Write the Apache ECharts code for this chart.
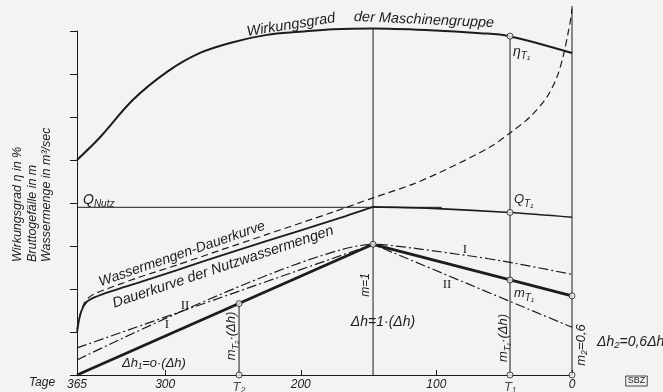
<!DOCTYPE html>
<html>
<head>
<meta charset="utf-8">
<script src="https://cdn.jsdelivr.net/npm/echarts@6/dist/echarts.min.js"></script>
<style>
html,body{margin:0;padding:0;background:#f3f3f1;}
#c{width:663px;height:392px;}
</style>
</head>
<body>
<div id="c"></div>
<script>
// ---------- data (days on x, scale units on y) ----------
const xTickValues = [0, 100, 200, 300, 365];
const etaDays = [365, 348, 323.7, 298.6, 274.3, 250, 224.9, 200.6, 176.2, 147.5, 104.7, 67.8, 46.5, 0];
const etaVals = [5.00, 5.53, 6.40, 7.05, 7.49, 7.74, 7.91, 7.98, 8.04, 8.06, 8.02, 7.95, 7.88, 7.49];

const wmDays = [365, 363.3, 360.3, 356.7, 350.5, 340.6, 318.5, 291.2, 259.5, 224.9, 176.2, 146.7, 117.2, 92.2, 60.5, 45.7, 31.0, 18.4, 11.1, 6.6, 2.9, 0.7, 0];
const wmVals = [1.07, 1.33, 1.63, 1.79, 1.91, 2.03, 2.28, 2.56, 2.90, 3.27, 3.79, 4.12, 4.44, 4.79, 5.30, 5.63, 6.00, 6.47, 6.93, 7.40, 7.95, 8.33, 8.52];

const nwDays = [365, 363.5, 361.5, 357.8, 351.7, 340.6, 318.5, 291.2, 259.5, 224.9, 176.2, 146.7];
const nwVals = [0.98, 1.28, 1.51, 1.70, 1.81, 1.94, 2.16, 2.44, 2.77, 3.12, 3.60, 3.91];

const qDays = [146.7, 106.9, 45.7, 0];
const qVals = [3.91, 3.88, 3.78, 3.67];

const qNutzDays = [365, 96];
const qNutzVals = [3.90, 3.90];

const thickDays = [365, 146.7, 0];
const thickVals = [0, 3.04, 1.84];
const iDays = [365, 146.7, 77.6, 45.7, 0];
const iVals = [0.35, 3.04, 2.78, 2.62, 2.34];
const iiDays = [365, 146.7, 0];
const iiVals = [0.63, 3.04, 1.11];

const T2 = 245.5, M1 = 146.7, T1 = 45.7;
const vertDays = [T2, M1, T1, 0];
const vertTops = [1.66, 8.06, 7.88, 8.58];

const circleDays = [T2, M1, T1, T1, T1, 0];
const circleVals = [1.66, 3.04, 2.21, 3.78, 7.88, 1.84];
const axisMarkDays = [T2, T1, 0];
const axisMarkLabels = ['T₂', 'T₁', ''];

// ---------- styling ----------
const INK = '#1c1c1c';
const BG = '#f3f3f1';
const FF = '"Liberation Sans", "DejaVu Sans", sans-serif';
const SERIF = '"Liberation Serif", "DejaVu Serif", serif';
const DASHDOT = [10, 3, 2, 3];

const zip = (a, b) => a.map((v, i) => [v, b[i]]);

function lineSeries(d, v, width, type, smooth) {
  return {
    type: 'line', data: zip(d, v), symbol: 'none', smooth: smooth || false,
    clip: false, silent: true,
    lineStyle: { color: INK, width: width, type: type || 'solid' }, z: 3
  };
}

const series = [
  lineSeries(etaDays, etaVals, 2, 'solid', 0.35),
  lineSeries(wmDays, wmVals, 1.2, [7, 4], 0.3),
  lineSeries(nwDays, nwVals, 1.8, 'solid', 0.3),
  lineSeries(qDays, qVals, 1.6, 'solid', 0.3),
  lineSeries(qNutzDays, qNutzVals, 1, 'solid'),
  lineSeries(thickDays, thickVals, 2.8, 'solid'),
  lineSeries(iDays, iVals, 1.2, DASHDOT, 0.2),
  lineSeries(iiDays, iiVals, 1.2, DASHDOT)
];
vertDays.forEach((d, i) => series.push(lineSeries([d, d], [0, vertTops[i]], 1, 'solid')));
series.push({
  type: 'scatter', data: zip(circleDays, circleVals), symbol: 'circle', symbolSize: 6,
  clip: false, silent: true, z: 10,
  itemStyle: { color: BG, borderColor: INK, borderWidth: 1 }
});
series.push({
  type: 'scatter', data: axisMarkDays.map((d, i) => ({ value: [d, 0], name: axisMarkLabels[i] })),
  symbol: 'circle', symbolSize: 6, clip: false, silent: true, z: 10,
  itemStyle: { color: BG, borderColor: INK, borderWidth: 1 },
  label: {
    show: true, position: 'bottom', distance: 2, formatter: p => p.name,
    fontFamily: FF, fontStyle: 'italic', fontSize: 13, color: INK
  }
});

// ---------- text helpers ----------
const mctx = document.createElement('canvas').getContext('2d');
function tw(t, size, fam) {
  mctx.font = 'italic ' + size + 'px ' + (fam || FF);
  return mctx.measureText(t).width;
}
function txt(x, y, t, o) {
  o = o || {};
  return {
    type: 'text', x: x, y: y, rotation: (o.rot || 0) * Math.PI / 180, silent: true,
    style: {
      text: t, fill: INK, fontFamily: o.fam || FF, fontStyle: o.normal ? 'normal' : 'italic',
      fontWeight: o.bold ? 'bold' : 'normal',
      fontSize: o.size || 13, align: o.align || 'center', verticalAlign: 'middle'
    }
  };
}
// runs: [[text, size, dy]] laid out along the baseline, group rotated
function runs(x, y, parts, o) {
  o = o || {};
  const widths = parts.map(p => tw(p[0], p[1]));
  const total = widths.reduce((a, b) => a + b, 0);
  let cx = o.align === 'left' ? 0 : -total / 2;
  const children = parts.map((p, i) => {
    const el = {
      type: 'text', x: cx, y: p[2] || 0, silent: true,
      style: { text: p[0], fill: INK, fontFamily: FF, fontStyle: 'italic', fontSize: p[1], align: 'left', verticalAlign: 'middle' }
    };
    cx += widths[i];
    return el;
  });
  return { type: 'group', x: x, y: y, rotation: (o.rot || 0) * Math.PI / 180, silent: true, children: children };
}

const graphic = [
  txt(291, 25, 'Wirkungsgrad', { size: 14.5, rot: 9 }),
  txt(424, 20, 'der Maschinengruppe', { size: 14.5, rot: -2.5 }),
  runs(513, 52, [['η', 14, 0], ['T₁', 10, 4]], { align: 'left' }),
  runs(83, 200, [['Q', 14, 0], ['Nutz', 10, 4]], { align: 'left' }),
  runs(514, 199, [['Q', 13, 0], ['T₁', 10, 5]], { align: 'left' }),
  runs(514, 293, [['m', 13, 0], ['T₁', 10, 5]], { align: 'left' }),
  txt(182, 254, 'Wassermengen-Dauerkurve', { size: 14, rot: 19 }),
  txt(223, 267, 'Dauerkurve der Nutzwassermengen', { size: 14.5, rot: 18.5 }),
  txt(185, 306, 'II', { fam: SERIF, normal: true, size: 13 }),
  txt(167, 325, 'I', { fam: SERIF, normal: true, size: 13 }),
  txt(465, 250, 'I', { fam: SERIF, normal: true, size: 13 }),
  txt(447, 285, 'II', { fam: SERIF, normal: true, size: 13 }),
  txt(154, 363, 'Δh₁=o·(Δh)', { size: 13 }),
  txt(366, 285, 'm=1', { size: 12, rot: 90 }),
  txt(383, 322, 'Δh=1·(Δh)', { size: 14 }),
  runs(231, 336, [['m', 13, 0], ['T₂', 9, 4], ['·(Δh)', 13, 0]], { rot: 90 }),
  runs(503, 338, [['m', 13, 0], ['T₁', 9, 4], ['·(Δh)', 13, 0]], { rot: 90 }),
  txt(581, 345, 'm₂=0,6', { size: 13, rot: 90 }),
  txt(597, 342, 'Δh₂=0,6Δh', { size: 14, align: 'left' }),
  txt(18, 262, 'Wirkungsgrad η in %', { size: 12.5, rot: 90, align: 'left' }),
  txt(33, 262, 'Bruttogefälle in m', { size: 12.5, rot: 90, align: 'left' }),
  txt(47, 262, 'Wassermenge in m³/sec', { size: 12.5, rot: 90, align: 'left' }),
  txt(42, 383, 'Tage', { size: 12 }),
  {
    type: 'text', x: 636.5, y: 381, silent: true,
    style: {
      text: 'SBZ', fill: INK, fontFamily: FF, fontSize: 9, align: 'center', verticalAlign: 'middle',
      borderColor: INK, borderWidth: 0.8, padding: [1, 2, 0, 2]
    }
  }
];

const chart = echarts.init(document.getElementById('c'), null, { renderer: 'canvas' });
chart.setOption({
  backgroundColor: BG,
  animation: false,
  grid: { left: 77, right: 91, top: 31, bottom: 17, containLabel: false },
  xAxis: {
    type: 'value', inverse: true, min: 0, max: 365, interval: 100, position: 'bottom',
    axisLine: { show: true, onZero: false, lineStyle: { color: INK, width: 1 } },
    axisTick: { show: true, inside: true, length: 5, lineStyle: { color: INK } },
    axisLabel: {
      show: true, margin: 4, fontFamily: FF, fontStyle: 'italic', fontSize: 12, color: INK,
      showMinLabel: true, showMaxLabel: true,
      formatter: v => (xTickValues.indexOf(v) >= 0 ? String(v) : '')
    },
    splitLine: { show: false }
  },
  yAxis: {
    type: 'value', min: 0, max: 8, interval: 1, position: 'left',
    axisLine: { show: true, onZero: false, lineStyle: { color: INK, width: 1 } },
    axisTick: { show: true, inside: false, length: 7, lineStyle: { color: INK } },
    axisLabel: { show: false },
    splitLine: { show: false }
  },
  series: series,
  graphic: graphic
});
</script>
</body>
</html>
